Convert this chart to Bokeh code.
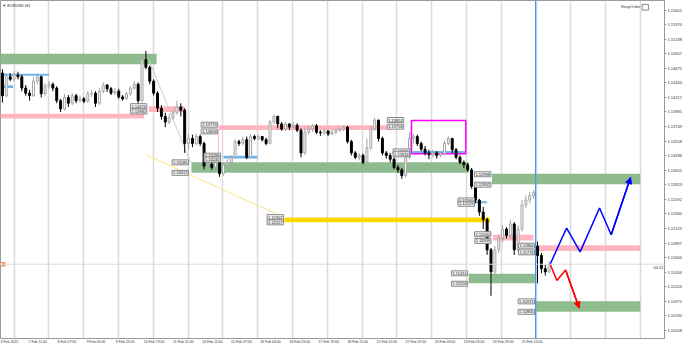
import numpy as np
from bokeh.plotting import figure
from bokeh.models import (ColumnDataSource, FixedTicker, Span, Label, Arrow, NormalHead,
                          Range1d, Grid, NumeralTickFormatter)
from bokeh.core.properties import value
from bokeh.embed import file_html
from bokeh.resources import INLINE

# ---------------- data (EURUSD, H1) ----------------
opens = [1.1460, 1.1424, 1.1454, 1.1450, 1.1457, 1.1454, 1.1436, 1.1428, 1.1424, 1.1447,
         1.1454, 1.1427, 1.1439, 1.1442, 1.1436, 1.1416, 1.1403, 1.1421, 1.1412, 1.1424,
         1.1416, 1.1419, 1.1415, 1.1427, 1.1428, 1.1412, 1.1431, 1.1441, 1.1435, 1.1428,
         1.1431, 1.1422, 1.1419, 1.1427, 1.1436, 1.1442, 1.1416, 1.1481, 1.1469, 1.1447,
         1.1428, 1.1404, 1.1391, 1.1382, 1.1389, 1.1397, 1.1406, 1.1401, 1.1348, 1.1356,
         1.1348, 1.1359, 1.1348, 1.1312, 1.1315, 1.1310, 1.1318, 1.1300, 1.1314, 1.1318,
         1.1326, 1.1351, 1.1348, 1.1354, 1.1326, 1.1359, 1.1356, 1.1359, 1.1354, 1.1348,
         1.1382, 1.1391, 1.1379, 1.1371, 1.1379, 1.1374, 1.1377, 1.1369, 1.1333, 1.1366,
         1.1371, 1.1376, 1.1366, 1.1365, 1.1368, 1.1363, 1.1366, 1.1369, 1.1371, 1.1374,
         1.1351, 1.1333, 1.1326, 1.1329, 1.1318, 1.1341, 1.1371, 1.1385, 1.1356, 1.1333,
         1.1329, 1.1323, 1.1310, 1.1306, 1.1297, 1.1326, 1.1356, 1.1359, 1.1348, 1.1339,
         1.1333, 1.1330, 1.1333, 1.1329, 1.1332, 1.1348, 1.1356, 1.1338, 1.1326, 1.1318,
         1.1314, 1.1306, 1.1280, 1.1258, 1.1239, 1.1227, 1.1179, 1.1144, 1.1179, 1.1197,
         1.1212, 1.1202, 1.1220, 1.1179, 1.1212, 1.1250, 1.1258, 1.1265, 1.1185, 1.1170,
         1.1149, 1.1144]
highs = [1.1466, 1.1460, 1.1460, 1.1463, 1.1462, 1.1457, 1.1441, 1.1433, 1.1454, 1.1459,
         1.1456, 1.1444, 1.1447, 1.1445, 1.1439, 1.1419, 1.1427, 1.1425, 1.1428, 1.1427,
         1.1424, 1.1422, 1.1431, 1.1433, 1.1431, 1.1436, 1.1445, 1.1442, 1.1438, 1.1436,
         1.1435, 1.1425, 1.1430, 1.1439, 1.1447, 1.1445, 1.1487, 1.1495, 1.1472, 1.1450,
         1.1431, 1.1409, 1.1397, 1.1395, 1.1401, 1.1416, 1.1412, 1.1404, 1.1363, 1.1362,
         1.1363, 1.1362, 1.1351, 1.1321, 1.1318, 1.1323, 1.1320, 1.1317, 1.1323, 1.1329,
         1.1354, 1.1354, 1.1359, 1.1359, 1.1363, 1.1362, 1.1362, 1.1360, 1.1357, 1.1385,
         1.1394, 1.1392, 1.1382, 1.1382, 1.1380, 1.1382, 1.1380, 1.1372, 1.1374, 1.1376,
         1.1379, 1.1379, 1.1369, 1.1371, 1.1369, 1.1371, 1.1372, 1.1374, 1.1377, 1.1376,
         1.1354, 1.1336, 1.1333, 1.1332, 1.1356, 1.1376, 1.1389, 1.1386, 1.1359, 1.1336,
         1.1333, 1.1326, 1.1314, 1.1309, 1.1333, 1.1366, 1.1363, 1.1362, 1.1351, 1.1344,
         1.1338, 1.1338, 1.1336, 1.1336, 1.1353, 1.1359, 1.1357, 1.1341, 1.1329, 1.1321,
         1.1317, 1.1309, 1.1283, 1.1260, 1.1247, 1.1230, 1.1182, 1.1185, 1.1203, 1.1218,
         1.1215, 1.1227, 1.1223, 1.1218, 1.1258, 1.1265, 1.1271, 1.1274, 1.1192, 1.1174,
         1.1155, 1.1161]
lows = [1.1413, 1.1421, 1.1447, 1.1447, 1.1450, 1.1431, 1.1424, 1.1416, 1.1422, 1.1442,
        1.1421, 1.1424, 1.1435, 1.1431, 1.1412, 1.1398, 1.1400, 1.1406, 1.1409, 1.1412,
        1.1413, 1.1412, 1.1413, 1.1422, 1.1406, 1.1409, 1.1428, 1.1430, 1.1425, 1.1425,
        1.1419, 1.1416, 1.1418, 1.1424, 1.1433, 1.1409, 1.1413, 1.1466, 1.1442, 1.1424,
        1.1398, 1.1386, 1.1374, 1.1379, 1.1385, 1.1394, 1.1391, 1.1333, 1.1338, 1.1342,
        1.1345, 1.1344, 1.1307, 1.1307, 1.1306, 1.1309, 1.1295, 1.1297, 1.1310, 1.1317,
        1.1323, 1.1344, 1.1345, 1.1323, 1.1324, 1.1353, 1.1353, 1.1351, 1.1345, 1.1347,
        1.1379, 1.1372, 1.1368, 1.1368, 1.1369, 1.1371, 1.1366, 1.1326, 1.1330, 1.1362,
        1.1366, 1.1363, 1.1360, 1.1362, 1.1360, 1.1362, 1.1363, 1.1366, 1.1368, 1.1348,
        1.1329, 1.1323, 1.1321, 1.1315, 1.1317, 1.1338, 1.1368, 1.1351, 1.1329, 1.1324,
        1.1318, 1.1307, 1.1301, 1.1292, 1.1294, 1.1323, 1.1348, 1.1344, 1.1336, 1.1329,
        1.1323, 1.1326, 1.1324, 1.1326, 1.1329, 1.1345, 1.1333, 1.1323, 1.1315, 1.1309,
        1.1303, 1.1276, 1.1253, 1.1233, 1.1212, 1.1171, 1.1106, 1.1139, 1.1174, 1.1191,
        1.1197, 1.1197, 1.1171, 1.1176, 1.1208, 1.1245, 1.1253, 1.1260, 1.1126, 1.1142,
        1.1138, 1.1142]
closes = [1.1424, 1.1454, 1.1450, 1.1457, 1.1454, 1.1436, 1.1428, 1.1424, 1.1447, 1.1454,
          1.1427, 1.1439, 1.1442, 1.1436, 1.1416, 1.1403, 1.1421, 1.1412, 1.1424, 1.1416,
          1.1419, 1.1415, 1.1427, 1.1428, 1.1412, 1.1431, 1.1441, 1.1435, 1.1428, 1.1431,
          1.1422, 1.1419, 1.1427, 1.1436, 1.1442, 1.1416, 1.1481, 1.1469, 1.1447, 1.1428,
          1.1404, 1.1391, 1.1382, 1.1389, 1.1397, 1.1406, 1.1401, 1.1348, 1.1356, 1.1348,
          1.1359, 1.1348, 1.1312, 1.1315, 1.1310, 1.1318, 1.1300, 1.1314, 1.1318, 1.1326,
          1.1351, 1.1348, 1.1354, 1.1326, 1.1359, 1.1356, 1.1359, 1.1354, 1.1348, 1.1382,
          1.1391, 1.1379, 1.1371, 1.1379, 1.1374, 1.1377, 1.1369, 1.1333, 1.1366, 1.1371,
          1.1376, 1.1366, 1.1365, 1.1368, 1.1363, 1.1366, 1.1369, 1.1371, 1.1374, 1.1351,
          1.1333, 1.1326, 1.1329, 1.1318, 1.1341, 1.1371, 1.1385, 1.1356, 1.1333, 1.1329,
          1.1323, 1.1310, 1.1306, 1.1297, 1.1326, 1.1356, 1.1359, 1.1348, 1.1339, 1.1333,
          1.1330, 1.1333, 1.1329, 1.1332, 1.1348, 1.1356, 1.1338, 1.1326, 1.1318, 1.1314,
          1.1306, 1.1280, 1.1258, 1.1239, 1.1227, 1.1179, 1.1144, 1.1179, 1.1197, 1.1212,
          1.1202, 1.1220, 1.1179, 1.1212, 1.1250, 1.1258, 1.1265, 1.1270, 1.1170, 1.1149,
          1.1144, 1.1156]

current_price = 1.11561

# zones (bar-index left/right, price top/bottom)
zone_left   = [-0.5, 0.0, 0.0, -0.5, 37.75, 55.75, 57.0, 48.75, 105.75, 72.75, 126.25, 122.0, 126.5, 137.75, 120.25, 137.5]
zone_right  = [39.75, 12.0, 2.75, 36.5, 47.0, 100.75, 65.75, 120.25, 119.5, 125.75, 164.5, 125.0, 137.0, 164.5, 137.5, 164.5]
zone_top    = [1.14905, 1.14587, 1.14405, 1.13952, 1.14073, 1.13770, 1.13286, 1.13180, 1.13361, 1.12302, 1.12998, 1.12560, 1.12030, 1.11864, 1.11410, 1.10971]
zone_bottom = [1.14738, 1.14557, 1.14360, 1.13876, 1.13982, 1.13694, 1.13240, 1.13013, 1.13316, 1.12227, 1.12832, 1.12529, 1.11939, 1.11773, 1.11258, 1.10805]
zone_kind   = ["supply", "level", "level", "demand", "demand", "demand", "level", "supply", "level", "target", "supply", "level", "demand", "demand", "supply", "supply"]

# magenta consolidation box
box_left, box_right, box_top, box_bottom = 105.5, 119.5, 1.13846, 1.13316

# price labels on zones
lab_x = [37.5, 37.5, 55.75, 55.75, 103.75, 103.75, 56.5, 56.5, 48.25, 48.25, 105.25, 105.25,
         72.75, 72.75, 126.25, 126.25, 122.0, 122.0, 126.25, 126.25, 137.5, 137.5, 120.25, 120.25, 137.5, 137.5]
lab_y = [1.14073, 1.13989, 1.13778, 1.13672, 1.13853, 1.13747, 1.13286, 1.13225, 1.13180, 1.13013, 1.13354, 1.13309,
         1.12310, 1.12227, 1.12991, 1.12824, 1.12575, 1.12522, 1.12038, 1.11932, 1.11856, 1.11750, 1.11417, 1.11251, 1.10971, 1.10805]
lab_text = ["1.14073", "1.13982", "1.13770", "1.13694", "1.13853", "1.13758", "1.13286", "1.13240", "1.13180", "1.13013",
            "1.13361", "1.13316", "1.12302", "1.12227", "1.12998", "1.12832", "1.12560", "1.12529", "1.12030", "1.11939",
            "1.11864", "1.11773", "1.11410", "1.11258", "1.10971", "1.10805"]

# trend lines
yellow_x, yellow_y = [37.0, 72.75], [1.13301, 1.12302]
green_x, green_y = [37.75, 48.5], [1.14814, 1.13180]

# projected scenarios
blue_x = [141.25, 145.5, 149.0, 154.0, 157.0, 162.0]
blue_y = [1.11561, 1.12136, 1.11758, 1.12454, 1.12030, 1.12938]
red_x = [141.25, 143.0, 145.25, 148.75]
red_y = [1.11561, 1.11304, 1.11470, 1.10865]

session_start = 137.5

y_ticks = [1.15601, 1.15370, 1.15138, 1.14907, 1.14675, 1.14444, 1.14212, 1.13981, 1.13749, 1.13518,
           1.13286, 1.13055, 1.12823, 1.12592, 1.12360, 1.12129, 1.11897, 1.11666, 1.11434, 1.11203,
           1.10971, 1.10740, 1.10508]
x_labels = ["3 Feb 2022", "7 Feb 11:00", "8 Feb 07:00", "9 Feb 03:00", "9 Feb 23:00", "10 Feb 19:00",
            "11 Feb 15:00", "14 Feb 11:00", "15 Feb 07:00", "16 Feb 03:00", "16 Feb 23:00", "17 Feb 19:00",
            "18 Feb 15:00", "21 Feb 11:00", "22 Feb 07:00", "23 Feb 03:00", "23 Feb 23:00", "24 Feb 19:00",
            "25 Feb 15:00"]

# ---------------- styling ----------------
FONT_NAME = "Liberation Sans"
FONT = value(FONT_NAME)
GREEN = "#8FBC8F"
PINK = "#FFB6C1"
BLUE_L = "#6DB6EE"
GOLD = "#FFD700"
colour_of = {"supply": GREEN, "demand": PINK, "level": BLUE_L, "target": GOLD}

p = figure(width=684, height=346, output_backend="svg", toolbar_location=None,
           x_range=Range1d(-0.5, 170.75), y_range=Range1d(1.10381, 1.15752),
           x_axis_location="below", y_axis_location="right",
           min_border_left=0, min_border_top=0, min_border_right=0, min_border_bottom=0)
p.background_fill_color = "white"
p.border_fill_color = "white"
p.outline_line_color = "#9A9A9A"
p.xgrid.visible = False
p.ygrid.visible = False

grid_pos = [3 + 8.975 * k for k in range(19)]
g = Grid(dimension=0, ticker=FixedTicker(ticks=grid_pos), grid_line_color="#DADADA", grid_line_width=1.5)
p.add_layout(g)

# zones
zsrc = ColumnDataSource(dict(left=zone_left, right=zone_right, top=zone_top, bottom=zone_bottom,
                             color=[colour_of[k] for k in zone_kind]))
p.quad(left="left", right="right", top="top", bottom="bottom", fill_color="color",
       line_color=None, source=zsrc)

# thin trend lines
p.line(yellow_x, yellow_y, line_color="#FFE680", line_width=1)
p.line(green_x, green_y, line_color="#B8DDB8", line_width=1)
p.segment(x0=[55.75], y0=[1.13694], x1=[55.75], y1=[1.13180], line_color=PINK, line_width=1)

# magenta box
p.quad(left=[box_left], right=[box_right], top=[box_top], bottom=[box_bottom],
       fill_color=None, line_color="#FF00FF", line_width=1.5)

# current price line
p.add_layout(Span(location=current_price, dimension="width", line_color="#DCDCDC", line_width=1))
# session start line
p.add_layout(Span(location=session_start, dimension="height", line_color="#3D9BF0", line_width=1.2))

# left price marker
p.scatter(x=[0.2], y=[current_price], marker="square", size=3.5, fill_color="#FF8C5A",
          line_color="#FF8C5A")
p.scatter(x=[-0.25], y=[current_price], marker="circle", size=3, fill_color="white",
          line_color="#FF8C5A", line_width=1)

# candles
idx = list(range(len(closes)))
bull = [c >= o for o, c in zip(opens, closes)]
csrc = ColumnDataSource(dict(
    x=idx, h=highs, l=lows,
    top=[max(o, c) for o, c in zip(opens, closes)],
    bottom=[min(o, c) for o, c in zip(opens, closes)],
    fill=["white" if b else "black" for b in bull],
    line=["#A4A4A4" if b else "black" for b in bull]))
p.segment(x0="x", y0="h", x1="x", y1="l", line_color="line", line_width=1, source=csrc)
p.vbar(x="x", width=0.5, top="top", bottom="bottom", fill_color="fill", line_color="line",
       line_width=1, source=csrc)

# scenario paths
p.line(blue_x, blue_y, line_color="#0000FF", line_width=1.5)
p.line(red_x, red_y, line_color="#FF0000", line_width=1.5)
p.add_layout(Arrow(end=NormalHead(size=6, fill_color="#0000FF", line_color="#0000FF"),
                   x_start=blue_x[-2], y_start=blue_y[-2], x_end=blue_x[-1], y_end=blue_y[-1],
                   line_color="#0000FF", line_width=1.5))
p.add_layout(Arrow(end=NormalHead(size=6, fill_color="#FF0000", line_color="#FF0000"),
                   x_start=red_x[-2], y_start=red_y[-2], x_end=red_x[-1], y_end=red_y[-1],
                   line_color="#FF0000", line_width=1.5))

# zone price labels
p.text(x=lab_x, y=lab_y, text=lab_text, text_align="right", text_baseline="middle",
       text_font=FONT, text_font_size="4px", text_color="#222222", x_offset=-1,
       background_fill_color="#EFEFEF", border_line_color="#8A8A8A", padding=1)

# texts
p.add_layout(Label(x=-0.3, y=1.15752, text="\u25BC EURUSD,H1", text_font=FONT_NAME, text_font_size="4px",
                   text_color="#333333", text_baseline="top", x_offset=1, y_offset=-2))
p.add_layout(Label(x=164.5, y=1.15752, text="EasyOrder", text_font=FONT_NAME, text_font_size="4px",
                   text_color="#333333", text_baseline="top", text_align="right", y_offset=-3))
p.quad(left=[165.0], right=[166.6], top=[1.15690], bottom=[1.15600], fill_color="white",
       line_color="#888888", line_width=1)
p.add_layout(Label(x=170.75, y=current_price, text="04:12", text_font=FONT_NAME, text_font_size="4px",
                   text_color="#333333", text_baseline="top", text_align="right", x_offset=-1, y_offset=-1))
p.add_layout(Label(x=170.75, y=current_price, text="1.11561", text_font=FONT_NAME, text_font_size="4px",
                   text_color="white", text_baseline="middle", text_align="left", x_offset=2,
                   background_fill_color="black"))

# axes
ya = p.yaxis[0]
ya.ticker = FixedTicker(ticks=y_ticks)
ya.formatter = NumeralTickFormatter(format="0.00000")
ya.major_label_text_font = FONT_NAME
ya.major_label_text_font_size = "4px"
ya.major_label_text_color = "#333333"
ya.major_tick_out = 2
ya.major_tick_in = 0
ya.minor_tick_out = 0
ya.minor_tick_in = 0
ya.major_label_standoff = 1
ya.axis_line_color = "#9A9A9A"
ya.major_tick_line_color = "#9A9A9A"

xa = p.xaxis[0]
x_tick_pos = [1.4] + [9.125 + 7.5 * k for k in range(len(x_labels) - 1)]
xa.ticker = FixedTicker(ticks=x_tick_pos)
xa.major_label_overrides = {t: s for t, s in zip(x_tick_pos, x_labels)}
xa.major_label_text_font = FONT_NAME
xa.major_label_text_font_size = "3.5px"
xa.major_label_text_color = "#333333"
xa.major_tick_out = 0
xa.major_tick_in = 0
xa.minor_tick_out = 0
xa.minor_tick_in = 0
xa.major_label_standoff = 1
xa.axis_line_color = "#9A9A9A"

open("out.html", "w").write(file_html(p, INLINE))
